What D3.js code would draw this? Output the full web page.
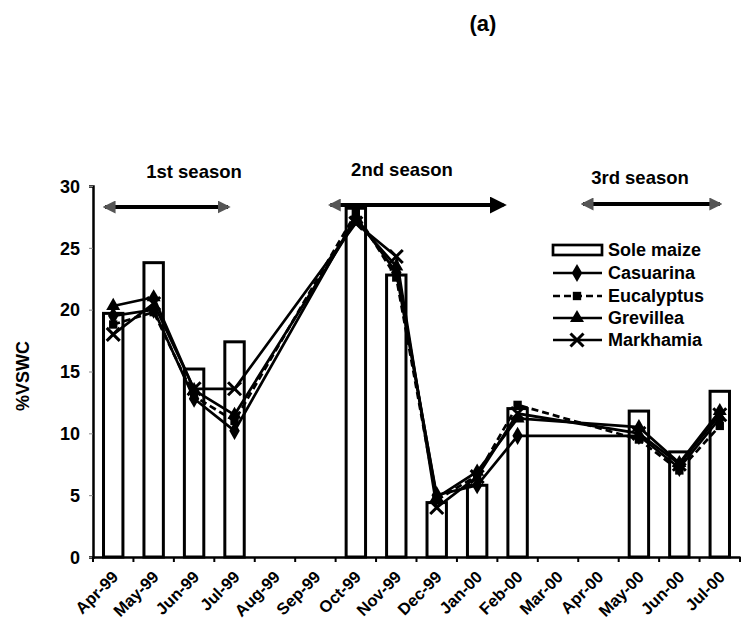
<!DOCTYPE html>
<html><head><meta charset="utf-8">
<script src="https://cdn.jsdelivr.net/npm/d3@7"></script>
<style>
body{margin:0;background:#fff;}
text{font-family:"Liberation Sans",Arial,sans-serif;font-weight:bold;fill:#000;}
</style></head>
<body><svg id="c" width="747" height="642"></svg>
<script>
const months = ["Apr-99","May-99","Jun-99","Jul-99","Aug-99","Sep-99","Oct-99","Nov-99","Dec-99","Jan-00","Feb-00","Mar-00","Apr-00","May-00","Jun-00","Jul-00"];
const soleMaize  = [19.7,23.8,15.2,17.4,null,null,28.2,22.8,4.4,5.8,12.0,null,null,11.8,8.5,13.4];
const casuarina  = [19.5,20.0,12.8,10.2,null,null,27.5,23.0,5.0,5.8,9.8,null,null,9.8,7.2,11.2];
const eucalyptus = [18.8,19.8,13.0,11.0,null,null,27.8,22.6,4.6,6.6,12.3,null,null,9.5,7.0,10.6];
const grevillea  = [20.3,21.0,13.5,11.5,null,null,27.2,23.5,4.8,6.9,11.2,null,null,10.5,7.6,11.8];
const markhamia  = [18.0,20.5,13.6,13.6,null,null,27.0,24.3,4.0,6.5,11.6,null,null,10.0,7.5,11.5];
const yTicks = [0,5,10,15,20,25,30];
// season spans in category units (0 = left edge of Apr-99)
const seasonLabels = ["1st season","2nd season","3rd season"];
const seasonStart = [0.3, 5.87, 12.12];
const seasonEnd   = [3.34, 10.15, 15.5];

const svg = d3.select("#c");
const x = d3.scaleBand().domain(months).range([93,740]).paddingInner(0.52).paddingOuter(0.26);
const y = d3.scaleLinear().domain([0,30]).range([557,186]);
const cx = m => x(m) + x.bandwidth()/2;
const step = x.step();
const xu = u => 93 + u*step;

// title
svg.append("text").attr("x",483).attr("y",31).attr("text-anchor","middle").style("font-size","22px").text("(a)");

// y axis title
svg.append("text").attr("transform","translate(29,376) rotate(-90)").attr("text-anchor","middle").style("font-size","18px").text("%VSWC");

// bars
svg.append("g").selectAll("rect").data(months.map((m,i)=>({m,v:soleMaize[i]})).filter(d=>d.v!=null))
 .join("rect").attr("x",d=>x(d.m)).attr("y",d=>y(d.v)).attr("width",x.bandwidth()).attr("height",d=>y(0)-y(d.v))
 .attr("fill","#fff").attr("stroke","#000").attr("stroke-width",3);

// y axis
const ya = svg.append("g").attr("transform","translate(93,0)").call(d3.axisLeft(y).tickValues(yTicks).tickSize(4).tickPadding(9));
ya.select(".domain").attr("stroke","#000").attr("stroke-width",2.5);
ya.selectAll(".tick line").attr("stroke","#888").attr("stroke-width",1);
ya.selectAll("text").style("font-size","18px").attr("dy","0.35em");

// x axis
const xa = svg.append("g").attr("transform","translate(0,557)").call(d3.axisBottom(x).tickSize(0).tickFormat(""));
xa.select(".domain").attr("stroke","#000").attr("stroke-width",2.5);
svg.append("g").selectAll("line").data(d3.range(months.length+1)).join("line")
 .attr("x1",i=>xu(i)).attr("x2",i=>xu(i)).attr("y1",557).attr("y2",562)
 .attr("stroke","#000").attr("stroke-width",2);
svg.append("g").selectAll("text").data(months).join("text")
 .attr("transform",m=>`translate(${cx(m)+2},${574}) rotate(-45)`)
 .attr("text-anchor","end").attr("dy","0.35em").style("font-size","16.5px").text(m=>m);

// lines
const series = [
  {name:"Casuarina", vals:casuarina, dash:null, marker:"diamond"},
  {name:"Eucalyptus", vals:eucalyptus, dash:"7,4", marker:"square"},
  {name:"Grevillea", vals:grevillea, dash:null, marker:"triangle"},
  {name:"Markhamia", vals:markhamia, dash:null, marker:"x"}
];
const line = d3.line().x(d=>cx(d.m)).y(d=>y(d.v));
function drawMarker(g, type, px, py){
  if(type==="x"){
    g.append("path").attr("d",`M${px-6.5},${py-6.5}L${px+6.5},${py+6.5}M${px-6.5},${py+6.5}L${px+6.5},${py-6.5}`).attr("stroke","#000").attr("stroke-width",3);
  } else {
    const sym = type==="diamond"?d3.symbolDiamond: type==="square"?d3.symbolSquare: d3.symbolTriangle;
    const sz = type==="diamond"?95: type==="square"?70: 85;
    g.append("path").attr("d",d3.symbol().type(sym).size(sz)()).attr("transform",`translate(${px},${py})`).attr("fill","#000");
  }
}
series.forEach(s=>{
  const pts = months.map((m,i)=>({m,v:s.vals[i]})).filter(d=>d.v!=null);
  svg.append("path").datum(pts).attr("d",line).attr("fill","none").attr("stroke","#000").attr("stroke-width",2.7)
    .attr("stroke-dasharray",s.dash);
  const g = svg.append("g");
  pts.forEach(p=>drawMarker(g,s.marker,cx(p.m),y(p.v)));
});

// season arrows
const defs = svg.append("defs");
function mk(id,color,scale){
  defs.append("marker").attr("id",id).attr("viewBox","0 0 10 10").attr("refX",8).attr("refY",5)
   .attr("markerWidth",scale).attr("markerHeight",scale).attr("orient","auto-start-reverse").attr("markerUnits","userSpaceOnUse")
   .append("path").attr("d","M0,0L10,5L0,10z").attr("fill",color);
}
mk("ag","#555",13); mk("ab","#000",17);
const seasonY = [207,205,204];
const seasonTextY = [178,176,184];
const seasonTextX = [194,402,640];
seasonLabels.forEach((lab,i)=>{
  svg.append("line").attr("x1",xu(seasonStart[i])).attr("x2",xu(seasonEnd[i])).attr("y1",seasonY[i]).attr("y2",seasonY[i])
   .attr("stroke","#000").attr("stroke-width",3.8)
   .attr("marker-start","url(#ag)").attr("marker-end", i===1?"url(#ab)":"url(#ag)");
  svg.append("text").attr("x",seasonTextX[i]).attr("y",seasonTextY[i]).attr("text-anchor","middle").style("font-size","18.5px").text(lab);
});

// legend
const leg = svg.append("g").attr("transform","translate(553,0)");
const rows = [250,273,296,318,340];
leg.append("rect").attr("x",0).attr("y",rows[0]-5).attr("width",49).attr("height",10).attr("fill","#fff").attr("stroke","#000").attr("stroke-width",2.7);
leg.append("text").attr("x",55).attr("y",rows[0]).attr("dy","0.35em").style("font-size","18px").text("Sole maize");
series.forEach((s,i)=>{
  const yy = rows[i+1];
  leg.append("line").attr("x1",0).attr("x2",49).attr("y1",yy).attr("y2",yy).attr("stroke","#000").attr("stroke-width",2.6).attr("stroke-dasharray",s.dash);
  drawMarker(leg,s.marker,24,yy);
  leg.append("text").attr("x",55).attr("y",yy).attr("dy","0.35em").style("font-size","18px").text(s.name);
});
</script></body></html>
